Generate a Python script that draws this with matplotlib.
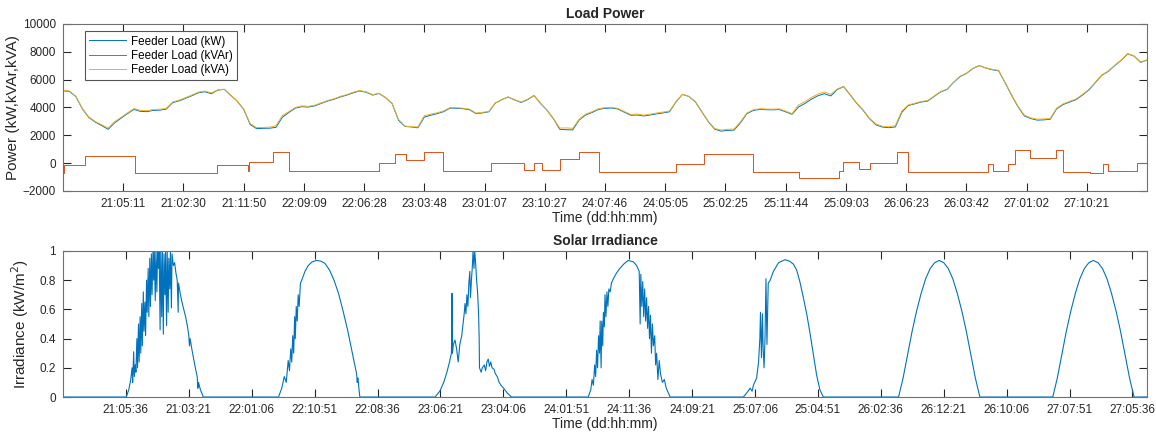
import numpy as np
import matplotlib

matplotlib.use("Agg")
import matplotlib.pyplot as plt

# ---- load power, hourly readings (hours from start of record) ----
load_kw = [
    5200, 5150, 4780, 3900, 3280, 2950, 2700, 2430, 2900, 3230,
    3560, 3860, 3720, 3700, 3790, 3810, 3880, 4350, 4480, 4660,
    4850, 5060, 5130, 4990, 5250, 5300, 4880, 4450, 3880, 2780,
    2480, 2500, 2510, 2570, 3300, 3640, 3950, 4060, 4030, 4110,
    4290, 4460, 4590, 4760, 4890, 5060, 5190, 5090, 4890, 5010,
    4700, 4290, 3080, 2640, 2600, 2540, 3310, 3440, 3560, 3700,
    3960, 3940, 3910, 3840, 3560, 3610, 3690, 4310, 4560, 4750,
    4540, 4360, 4560, 4860, 4290, 3810, 3190, 2430, 2400, 2390,
    3100, 3460, 3640, 3860, 3940, 3960, 3890, 3660, 3440, 3460,
    3390, 3460, 3540, 3610, 3690, 4400, 4940, 4790, 4410, 3690,
    2990, 2440, 2300, 2350, 2370, 2900, 3560, 3790, 3860, 3840,
    3830, 3850, 3690, 3510, 4040, 4290, 4600, 4840, 4990, 4830,
    5290, 5500, 4900, 4300, 3800, 3190, 2750, 2590, 2550, 2600,
    3650, 4140, 4260, 4390, 4460, 4790, 5110, 5290, 5790, 6210,
    6440, 6790, 7010, 6840, 6710, 6640, 5790, 4890, 4060, 3390,
    3200, 3090, 3110, 3150, 3900, 4210, 4390, 4560, 4890, 5260,
    5790, 6310, 6590, 7010, 7390, 7850, 7690, 7240, 7400,
]
load_kva = [
    5240, 5180, 4800, 3930, 3320, 2990, 2760, 2520, 2980, 3290,
    3610, 3920, 3790, 3770, 3850, 3870, 3940, 4400, 4530, 4710,
    4900, 5110, 5180, 5050, 5260, 5310, 4890, 4460, 3890, 2850,
    2550, 2570, 2580, 2690, 3420, 3700, 4000, 4110, 4080, 4160,
    4330, 4500, 4630, 4800, 4930, 5100, 5220, 5120, 4920, 5020,
    4710, 4300, 3140, 2660, 2620, 2600, 3410, 3520, 3620, 3750,
    4000, 3980, 3950, 3880, 3600, 3650, 3720, 4320, 4570, 4760,
    4560, 4390, 4590, 4870, 4310, 3830, 3210, 2520, 2530, 2500,
    3160, 3520, 3700, 3910, 3990, 4010, 3940, 3710, 3500, 3520,
    3450, 3520, 3600, 3670, 3750, 4410, 4950, 4800, 4430, 3720,
    3010, 2490, 2380, 2430, 2450, 2970, 3610, 3840, 3910, 3890,
    3880, 3900, 3740, 3560, 4180, 4420, 4720, 4960, 5110, 4950,
    5330, 5520, 4920, 4330, 3830, 3220, 2810, 2650, 2610, 2690,
    3740, 4180, 4300, 4430, 4500, 4820, 5140, 5320, 5810, 6240,
    6460, 6810, 7020, 6850, 6740, 6670, 5810, 4920, 4100, 3450,
    3250, 3160, 3180, 3200, 3950, 4260, 4440, 4610, 4940, 5300,
    5820, 6340, 6620, 7030, 7410, 7870, 7710, 7260, 7420,
]

# reactive power is a step signal: hour the level starts, level value
kvar_hours = [
    0.0, 0.15, 3.4, 11.1, 23.8, 28.6, 28.8, 32.6, 35.1, 49.0,
    51.5, 53.1, 55.9, 58.9, 66.4, 71.4, 73.0, 74.3, 77.0, 79.9,
    83.1, 95.0, 99.4, 107.0, 114.1, 120.3, 120.9, 123.3, 125.0, 129.2,
    131.0, 143.4, 144.2, 146.5, 147.5, 149.8, 153.9, 155.0, 159.2, 161.2,
    162.0, 166.4, 168.0,
]
kvar_vals = [
    -700, -150, 500, -700, -150, -600, 50, 800, -550, 0,
    650, 200, 780, -560, 30, -490, 30, -470, 300, 820,
    -610, -60, 640, -610, -1090, -560, 100, -420, 40, 770,
    -610, -70, -600, -60, 930, 400, 940, -610, -720, -60,
    -540, 0, 0,
]

# ---- solar irradiance (kW/m^2) ----
solar_hours = [
    0.0,
    # day 21
    9.8, 10.2, 10.5, 10.7, 10.8, 10.95, 11.05, 11.2, 11.3, 11.45,
    11.55, 11.7, 11.8, 11.95, 12.05, 12.2, 12.3, 12.45, 12.55, 12.7,
    12.8, 12.95, 13.05, 13.2, 13.3, 13.45, 13.55, 13.7, 13.8, 13.95,
    14.05, 14.15, 14.3, 14.4, 14.55, 14.65, 14.8, 14.9, 15.05, 15.15,
    15.3, 15.4, 15.55, 15.65, 15.8, 15.9, 16.05, 16.15, 16.3, 16.4,
    16.55, 16.65, 16.8, 16.9, 17.1, 17.3, 17.5, 17.7, 17.85, 17.9,
    18.2, 18.6, 19.0, 19.3, 19.5, 19.6, 19.7, 20.0, 20.3, 20.6,
    20.8, 20.9, 21.0, 21.3, 21.75,
    # day 22
    33.4, 33.9, 34.3, 34.6, 34.9, 35.1, 35.3, 35.45, 35.6, 35.75,
    35.9, 36.0, 36.15, 36.3, 36.45, 36.6, 36.8, 37.0, 37.5, 38.0,
    38.6, 39.3, 40.0, 40.6, 41.3, 42.0, 42.7, 43.4, 44.1, 44.8,
    45.3, 45.5, 45.6, 45.7, 46.0,
    # day 23
    57.66, 58.4, 59.0, 59.5, 59.9, 60.2, 60.3, 60.36, 60.5, 60.75,
    61.0, 61.25, 61.5, 61.8, 62.0, 62.2, 62.3, 62.45, 62.6, 62.75,
    62.9, 63.05, 63.15, 63.3, 63.45, 63.55, 63.7, 63.8, 63.95, 64.1,
    64.25, 64.4, 64.5, 64.55, 64.8, 65.0, 65.3, 65.5, 65.7, 65.9,
    66.1, 66.3, 66.5, 66.8, 67.0, 67.3, 67.6, 67.9, 68.3, 68.8,
    69.5,
    # day 24
    81.4, 81.8, 82.0, 82.2, 82.4, 82.55, 82.7, 82.85, 83.0, 83.15,
    83.25, 83.4, 83.5, 83.65, 83.75, 83.9, 84.0, 84.15, 84.3, 84.45,
    84.6, 84.8, 85.0, 85.3, 85.8, 86.3, 86.9, 87.6, 88.4, 88.9,
    89.3, 89.45, 89.55, 89.7, 89.85, 90.0, 90.15, 90.3, 90.45, 90.6,
    90.75, 90.9, 91.05, 91.2, 91.35, 91.5, 91.7, 91.85, 92.0, 92.2,
    92.4, 92.6, 92.9, 93.2, 93.5, 94.1,
    # day 25
    105.45, 106.0, 106.5, 106.8, 107.0, 107.5, 107.8, 108.0, 108.1, 108.25,
    108.4, 108.5, 108.65, 108.8, 108.95, 109.1, 109.3, 109.6, 110.1, 110.9,
    111.9, 112.6, 113.2, 113.7, 114.2, 114.7, 115.3, 115.8, 116.3, 116.8,
    117.3, 117.84,
    # day 26
    129.5, 130.2, 130.9, 131.6, 132.3, 133.0, 133.7, 134.4, 135.1, 135.8,
    136.5, 137.2, 137.9, 138.6, 139.3, 140.0, 140.7, 141.4, 142.1,
    # day 27
    153.4, 154.1, 154.8, 155.5, 156.2, 156.9, 157.6, 158.3, 159.0, 159.7,
    160.4, 161.1, 161.8, 162.5, 163.2, 163.9, 164.6, 165.3, 166.0,
    168.0,
]
solar_kw = [
    0.0,
    # day 21
    0.0, 0.05, 0.12, 0.20, 0.10, 0.31, 0.14, 0.22, 0.17, 0.40,
    0.20, 0.50, 0.24, 0.55, 0.30, 0.64, 0.35, 0.72, 0.45, 0.65,
    0.42, 0.80, 0.58, 0.88, 0.55, 0.95, 0.62, 0.98, 0.70, 1.0,
    0.80, 1.0, 0.66, 1.0, 0.72, 1.0, 0.88, 1.0, 0.46, 1.0,
    0.55, 1.0, 0.43, 0.98, 0.70, 1.0, 0.49, 1.0, 0.58, 0.95,
    0.74, 1.0, 0.61, 0.98, 0.90, 0.92, 0.85, 0.80, 0.58, 0.78,
    0.70, 0.62, 0.55, 0.48, 0.42, 0.35, 0.40, 0.32, 0.25, 0.18,
    0.14, 0.06, 0.10, 0.05, 0.0,
    # day 22
    0.0, 0.06, 0.14, 0.10, 0.25, 0.18, 0.33, 0.24, 0.42, 0.30,
    0.55, 0.40, 0.62, 0.52, 0.70, 0.62, 0.78, 0.80, 0.86, 0.90,
    0.925, 0.935, 0.93, 0.915, 0.87, 0.80, 0.71, 0.59, 0.46, 0.31,
    0.20, 0.16, 0.10, 0.13, 0.0,
    # day 23
    0.0, 0.04, 0.10, 0.17, 0.24, 0.30, 0.71, 0.30, 0.36, 0.39,
    0.33, 0.24, 0.36, 0.42, 0.50, 0.58, 0.64, 0.57, 0.70, 0.62,
    0.78, 0.86, 0.68, 0.80, 0.90, 1.0, 0.88, 1.0, 0.92, 0.80,
    0.72, 0.58, 0.40, 0.20, 0.17, 0.20, 0.22, 0.18, 0.24, 0.26,
    0.21, 0.24, 0.20, 0.19, 0.16, 0.14, 0.10, 0.08, 0.06, 0.03,
    0.0,
    # day 24
    0.0, 0.05, 0.12, 0.08, 0.22, 0.14, 0.32, 0.20, 0.42, 0.30,
    0.52, 0.20, 0.52, 0.35, 0.58, 0.48, 0.70, 0.55, 0.72, 0.62,
    0.74, 0.72, 0.78, 0.81, 0.85, 0.88, 0.91, 0.935, 0.925, 0.90,
    0.86, 0.50, 0.84, 0.62, 0.79, 0.55, 0.74, 0.52, 0.68, 0.47,
    0.62, 0.40, 0.56, 0.30, 0.50, 0.35, 0.42, 0.22, 0.30, 0.12,
    0.25, 0.16, 0.10, 0.12, 0.06, 0.0,
    # day 25
    0.0, 0.03, 0.06, 0.04, 0.08, 0.13, 0.24, 0.40, 0.58, 0.27,
    0.57, 0.35, 0.20, 0.40, 0.81, 0.36, 0.78, 0.80, 0.86, 0.92,
    0.94, 0.93, 0.91, 0.87, 0.79, 0.69, 0.56, 0.43, 0.29, 0.15,
    0.05, 0.0,
    # day 26
    0.0, 0.13, 0.29, 0.45, 0.59, 0.71, 0.81, 0.88, 0.92, 0.935,
    0.92, 0.88, 0.81, 0.71, 0.59, 0.45, 0.29, 0.13, 0.0,
    # day 27
    0.0, 0.13, 0.29, 0.45, 0.59, 0.71, 0.81, 0.88, 0.92, 0.935,
    0.92, 0.88, 0.81, 0.71, 0.59, 0.45, 0.29, 0.13, 0.0,
    0.0,
]

load_ticks = [
    "21:05:11", "21:02:30", "21:11:50", "22:09:09", "22:06:28", "23:03:48",
    "23:01:07", "23:10:27", "24:07:46", "24:05:05", "25:02:25", "25:11:44",
    "25:09:03", "26:06:23", "26:03:42", "27:01:02", "27:10:21",
]
solar_ticks = [
    "21:05:36", "21:03:21", "22:01:06", "22:10:51", "22:08:36", "23:06:21",
    "23:04:06", "24:01:51", "24:11:36", "24:09:21", "25:07:06", "25:04:51",
    "26:02:36", "26:12:21", "26:10:06", "27:07:51", "27:05:36",
]

SPAN_H = 168.0
BLUE = "#0072BD"
ORANGE = "#D95319"
YELLOW = "#EDB120"
TXT = "#262626"


def style_axes(ax) -> None:
    for sp in ax.spines.values():
        sp.set_color("#707070")
        sp.set_linewidth(0.8)
    ax.tick_params(direction="in", top=True, right=True, length=6, width=0.8,
                   color="#262626", labelsize=8.5, labelcolor=TXT, pad=5)


def main() -> None:
    plt.rcParams["font.family"] = ["Liberation Sans", "DejaVu Sans"]

    fig = plt.figure(figsize=(11.56, 4.36), dpi=100)
    ax1 = fig.add_axes([0.0545, 0.562, 0.9377, 0.383])
    ax2 = fig.add_axes([0.0545, 0.0894, 0.9377, 0.335])

    hours = np.arange(len(load_kw))
    ax1.plot(hours, load_kw, color=BLUE, lw=0.7, label="Feeder Load (kW)")
    ax1.plot(kvar_hours, kvar_vals, color=ORANGE, lw=0.7, drawstyle="steps-post",
             label="Feeder Load (kVAr)")
    ax1.plot(hours, load_kva, color=YELLOW, lw=0.7, label="Feeder Load (kVA)")
    ax1.set_xlim(0, SPAN_H)
    ax1.set_ylim(-2000, 10000)
    ax1.set_yticks(np.arange(-2000, 10001, 2000))
    ax1.set_xticks(np.arange(1, 18) * SPAN_H / 18)
    ax1.set_xticklabels(load_ticks)
    ax1.set_title("Load Power", fontsize=10, fontweight="bold", color=TXT, pad=4)
    ax1.set_xlabel("Time (dd:hh:mm)", fontsize=10, color=TXT, labelpad=1)
    ax1.set_ylabel("Power (kW,kVAr,kVA)", fontsize=11, color=TXT, labelpad=2)
    style_axes(ax1)
    leg = ax1.legend(loc="upper left", bbox_to_anchor=(0.02, 0.955), borderaxespad=0,
                     fontsize=8.4, frameon=True, fancybox=False, framealpha=1,
                     handlelength=3.2, labelspacing=0.2, borderpad=0.35,
                     handletextpad=0.4)
    leg.get_frame().set_edgecolor("#555555")
    leg.get_frame().set_linewidth(0.8)

    ax2.plot(solar_hours, solar_kw, color=BLUE, lw=0.8)
    ax2.set_xlim(0, SPAN_H)
    ax2.set_ylim(0, 1)
    ax2.set_yticks(np.arange(0, 1.01, 0.2))
    ax2.set_yticklabels(["0", "0.2", "0.4", "0.6", "0.8", "1"])
    ax2.set_xticks(np.arange(1, 18) * 9.75)
    ax2.set_xticklabels(solar_ticks)
    ax2.set_title("Solar Irradiance", fontsize=10, fontweight="bold", color=TXT, pad=4)
    ax2.set_xlabel("Time (dd:hh:mm)", fontsize=10, color=TXT, labelpad=1)
    ax2.set_ylabel("Irradiance (kW/m$^2$)", fontsize=11, color=TXT, labelpad=6)
    style_axes(ax2)

    fig.savefig("out.png", dpi=100)
    plt.close(fig)


if __name__ == "__main__":
    main()
